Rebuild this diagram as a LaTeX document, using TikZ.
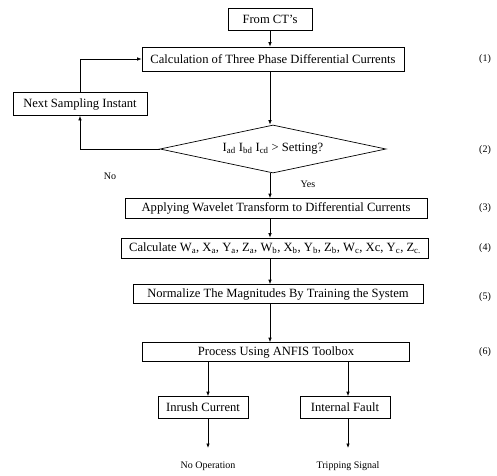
\documentclass[tikz,border=0pt]{standalone}
\usepackage{fontspec}
\setmainfont{Liberation Serif}
\usetikzlibrary{shapes.geometric,arrows.meta}

\begin{document}
\begin{tikzpicture}[x=1pt,y=-1pt]
	\tikzset{
		box/.style={draw,line width=0.7pt,inner sep=1pt,font=\fontsize{12.6}{14}\selectfont},
		txt/.style={inner sep=0pt,font=\fontsize{10}{12}\selectfont},
		>={Latex[length=4.5pt,width=3.5pt]},
		every path/.style={line width=0.7pt}}
	\useasboundingbox (0,0) rectangle (497,475);
	\node[box,minimum width=84pt,minimum height=22pt](ct) at (270,19){From CT's};
	\node[box,minimum width=262pt,minimum height=24pt](calc) at (273,59){Calculation of Three Phase Differential Currents};
	\node[box,minimum width=134pt,minimum height=23pt](next) at (80,104){Next Sampling Instant};
	\node[box,diamond,aspect=4.7,minimum width=226pt,minimum height=48pt](dia) at (273,149)
		{I\textsubscript{ad} I\textsubscript{bd} I\textsubscript{cd} > Setting?};
	\node[box,minimum width=302pt,minimum height=20pt](apply) at (276,208.5){Applying Wavelet Transform to Differential Currents};
	\node[box,minimum width=307pt,minimum height=20pt](calcw) at (275,248)
		{Calculate W\textsubscript{a}, X\textsubscript{a}, Y\textsubscript{a}, Z\textsubscript{a}, W\textsubscript{b}, X\textsubscript{b}, Y\textsubscript{b}, Z\textsubscript{b}, W\textsubscript{c}, Xc, Y\textsubscript{c}, Z\textsubscript{c.}};
	\node[box,minimum width=290pt,minimum height=19pt](norm) at (278,294){Normalize The Magnitudes By Training the System};
	\node[box,minimum width=267pt,minimum height=19pt](proc) at (276,352){Process Using ANFIS Toolbox};
	\node[box,minimum width=90pt,minimum height=22pt](inr) at (203,407.5){Inrush Current};
	\node[box,minimum width=90pt,minimum height=22pt](intf) at (345,407.5){Internal Fault};
	\coordinate(noend) at (208,448);
	\coordinate(tripend) at (348,448);
	\node[txt](noop) at (208,466){No Operation};
	\node[txt](trip) at (348,466){Tripping Signal};
	\node[txt](no) at (110,176){No};
	\node[txt](yes) at (308,184){Yes};
	\draw[->](ct)--(ct|-calc.north);
	\draw[->](calc.south-|ct)--(dia.north-|ct);
	\draw[->](dia.south-|ct)--(apply.north-|ct);
	\draw[->](apply.south-|ct)--(calcw.north-|ct);
	\draw[->](calcw.south-|ct)--(norm.north-|ct);
	\draw[->](norm.south-|ct)--(proc.north-|ct);
	\draw[->](dia.west)-|(next.south);
	\draw[->](next.north)|-(calc.west);
	\draw[->](proc.south-|noend)--(inr.north-|noend);
	\draw[->](proc.south-|tripend)--(intf.north-|tripend);
	\draw[->](inr.south-|noend)--(noend);
	\draw[->](intf.south-|tripend)--(tripend);
	\foreach \n/\y in {1/59,2/150,3/208,4/248,5/297,6/352}
		\node[txt](step\n) at (485,\y){(\n)};
\end{tikzpicture}
\end{document}
